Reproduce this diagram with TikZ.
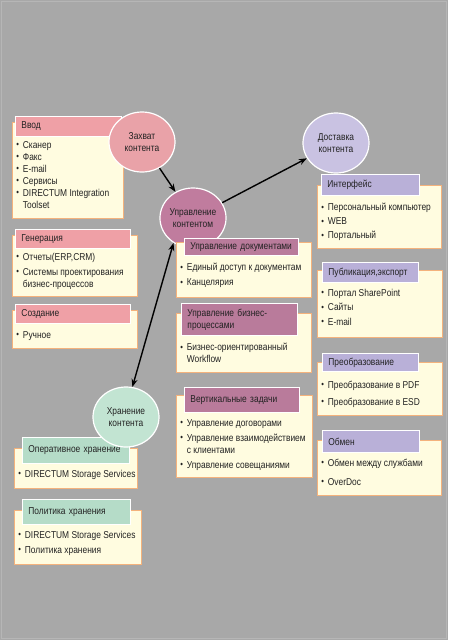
\documentclass[tikz,border=0pt]{standalone}
\usepackage{fontspec}
\setmainfont[FakeStretch=0.84]{Liberation Sans}
\usetikzlibrary{shapes.geometric,arrows.meta}
\definecolor{bg}{HTML}{A8A8A8}
\definecolor{frm}{HTML}{B6B6B6}
\definecolor{boxfill}{HTML}{FFFCE0}
\definecolor{boxline}{HTML}{F4B27C}
\definecolor{txt}{HTML}{222222}
\definecolor{pinkH}{HTML}{EFA0A6}
\definecolor{pinkC}{HTML}{E9A2A8}
\definecolor{mauveH}{HTML}{B97B9B}
\definecolor{mauveC}{HTML}{C07C9E}
\definecolor{lavH}{HTML}{B9B0D8}
\definecolor{lavC}{HTML}{C9C2E2}
\definecolor{mintH}{HTML}{B5DCC8}
\definecolor{mintC}{HTML}{C2E4D2}
\newcommand{\itm}[1]{\par\hangindent=6.5pt\hangafter=1\noindent\hbox to 6.5pt{\raisebox{0.6pt}{\small\textbullet}\hss}#1}
\newcommand{\lst}[5]{\parbox[t][#2pt][t]{#1pt}{\raggedright\hyphenpenalty=10000\hfuzz=5pt\setlength{\parskip}{#4pt}\vspace*{#3pt}#5}}

\begin{document}
\begin{tikzpicture}[x=1pt,y=-1pt,
	every node/.style={font=\fontsize{10}{12}\selectfont, text=txt},
	crm/.style={draw=boxline, fill=boxfill, line width=0.8pt, anchor=north west, inner xsep=4pt, inner ysep=0pt},
	hdr/.style={draw=white, line width=0.9pt, anchor=north west, inner xsep=6pt, inner ysep=0pt, align=left},
	ctr/.style={ellipse, draw=white, line width=1.2pt, minimum width=66pt, minimum height=60pt, inner sep=0pt, align=center},
	arr/.style={line width=1.4pt, -{Stealth[length=8pt,width=6pt]}}]
		\fill[bg] (0,0) rectangle (448,640);
		\draw[frm, line width=0.6pt] (1.5,1.5) rectangle (446.5,638.5);

		\node[crm] (vvod) at (12,122) {\lst{103}{96}{18.8}{0}{\itm{Сканер}\itm{Факс}\itm{E-mail}\itm{Сервисы}\itm{DIRECTUM Integration\newline Toolset}}};
		\node[hdr, fill=pinkH, text width=94pt, minimum height=20pt] (vvodH) at (15,116) {Ввод};
		\node[crm] (gen) at (12,235) {\lst{117}{61}{14.8}{3}{\itm{Отчеты(ERP,CRM)}\itm{Системы проектирования\newline бизнес-процессов}}};
		\node[hdr, fill=pinkH, text width=103pt, minimum height=19pt] (genH) at (15,229) {Генерация};
		\node[crm] (soz) at (12,310) {\lst{117}{38}{20.8}{0}{\itm{Ручное}}};
		\node[hdr, fill=pinkH, text width=103pt, minimum height=19pt] (sozH) at (15,304) {Создание};
		\node[ctr, fill=pinkC] (zah) at (142,142) {Захват\\контента};

		\node[ctr, fill=mauveC] (upr) at (193,218) {Управление\\контентом};
		\node[crm] (doc) at (176,242) {\lst{127}{55}{17.8}{3}{\itm{Единый доступ к документам}\itm{Канцелярия}}};
		\node[hdr, fill=mauveH, text width=102pt, minimum height=17pt] (docH) at (184,238) {Управление документами};
		\node[crm] (bp) at (176,313) {\lst{127}{59}{29.8}{0}{\itm{Бизнес-ориентированный\newline Workflow}}};
		\node[hdr, fill=mauveH, text width=104pt, minimum height=32pt] (bpH) at (181,303) {Управление бизнес-\\процессами};
		\node[crm] (vert) at (176,395) {\lst{128}{82}{20.8}{3}{\itm{Управление договорами}\itm{Управление взаимодействием\newline с клиентами}\itm{Управление совещаниями}}};
		\node[hdr, fill=mauveH, text width=103pt, minimum height=25pt] (vertH) at (184,387) {Вертикальные задачи};

		\node[ctr, fill=lavC] (dost) at (336,143) {Доставка\\контента};
		\node[crm] (intf) at (317,185) {\lst{116}{63}{15.8}{2}{\itm{Персональный компьютер}\itm{WEB}\itm{Портальный}}};
		\node[hdr, fill=lavH, text width=86pt, minimum height=21pt] (intfH) at (321,174) {Интерфейс};
		\node[crm] (pub) at (317,270) {\lst{117}{67}{16.3}{2.5}{\itm{Портал SharePoint}\itm{Сайты}\itm{E-mail}}};
		\node[hdr, fill=lavH, text width=84pt, minimum height=20pt] (pubH) at (322,262) {Публикация,экспорт};
		\node[crm] (preo) at (317,362) {\lst{117}{53}{13.8}{5}{\itm{Преобразование в PDF}\itm{Преобразование в ESD}}};
		\node[hdr, fill=lavH, text width=84pt, minimum height=18pt] (preoH) at (322,353) {Преобразование};
		\node[crm] (obm) at (317,440) {\lst{116}{55}{11.8}{7}{\itm{Обмен между службами}\itm{OverDoc}}};
		\node[hdr, fill=lavH, text width=85pt, minimum height=22pt] (obmH) at (322,430) {Обмен};

		\node[crm] (oper) at (14,448) {\lst{115}{40}{21.8}{0}{\itm{\mbox{DIRECTUM Storage Services}}}};
		\node[hdr, fill=mintH, text width=95pt, minimum height=26pt] (operH) at (22,437) {Оперативное хранение};
		\node[crm] (pol) at (14,510) {\lst{119}{54}{17.8}{3}{\itm{\mbox{DIRECTUM Storage Services}}\itm{Политика хранения}}};
		\node[hdr, fill=mintH, text width=96pt, minimum height=25pt] (polH) at (22,499) {Политика хранения};
		\node[ctr, fill=mintC] (hran) at (126,417) {Хранение\\контента};

		\draw[arr] (zah) to (upr);
		\draw[arr] (upr) to (dost);
		\draw[arr, {Stealth[length=8pt,width=6pt]}-{Stealth[length=8pt,width=6pt]}] (upr.232) to (hran.78);
\end{tikzpicture}
\end{document}
